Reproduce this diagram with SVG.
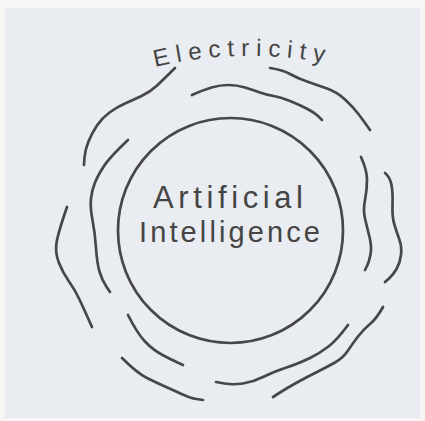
<svg xmlns="http://www.w3.org/2000/svg" width="425" height="421" viewBox="0 0 425 421">
  <style>
    .stroke { fill: none; stroke: #474747; stroke-width: 2.7; stroke-linecap: round; stroke-linejoin: round; }
    .hand { font-family: "Liberation Sans", "DejaVu Sans", sans-serif; fill: #454545; }
  </style>
  <defs>
    <path id="elecArc" d="M155,67 Q240,47 326,63"/>
  </defs>
  <rect x="0" y="0" width="425" height="421" fill="#f6f6f6"/>
  <rect x="5" y="8" width="415" height="410" fill="#e9ecf0"/>

  <g id="ai">
    <circle cx="230.5" cy="230.5" r="112.5" class="stroke"/>
    <text class="hand" x="153" y="208" font-size="31" textLength="150" lengthAdjust="spacing">Artificial</text>
    <text class="hand" x="139" y="242" font-size="29" textLength="181" lengthAdjust="spacing">Intelligence</text>
  </g>

  <g id="electricity">
    <text class="hand" font-size="24"><textPath href="#elecArc" textLength="170" lengthAdjust="spacing">Electricity</textPath></text>
  </g>

  <g id="waves">
    <path class="stroke" d="M175,68 Q163,80 156.5,86 Q150,92 141.5,96 Q133,100 125,103.5 Q117,107 109.5,112.5 Q102,118 97,125.5 Q92,133 88.5,141.5 Q85,150 84.5,157.5 L84,165"/>
    <path class="stroke" d="M128,140 Q110,157 104,166 Q98,175 95,182.5 Q92,190 91,198.5 Q90,207 92.5,220 Q95,233 96,248 Q97,263 99.5,271.5 Q102,280 106,286 L110,292"/>
    <path class="stroke" d="M67,207 Q58,233 56.5,243 Q55,253 59,263 Q63,273 69,281.5 Q75,290 79,298.5 Q83,307 87.5,317 L92,327"/>
    <path class="stroke" d="M192,95 Q203,90 211.5,87.5 Q220,85 228.5,85 Q237,85 245,87.5 Q253,90 260,92.5 Q267,95 273.5,96 Q280,97 290,101 Q300,105 307.5,109 Q315,113 318.5,116.5 L322,120"/>
    <path class="stroke" d="M270,68 Q283,70 290,74 Q297,78 307,81.5 Q317,85 327,88.5 Q337,92 345,99.5 Q353,107 358,113.5 Q363,120 366.5,125 L370,130"/>
    <path class="stroke" d="M361,157 Q367,170 367,180 Q367,190 365,200 Q363,210 365,218.5 Q367,227 369.5,237 Q372,247 370.5,254.5 Q369,262 367,266 L365,270"/>
    <path class="stroke" d="M385,173 Q390,177 391.5,185 Q393,193 392.5,205 Q392,217 394.5,225 Q397,233 399.5,240 Q402,247 401,255 Q400,263 396.5,269 Q393,275 389,278.5 L385,282"/>
    <path class="stroke" d="M348,325 Q337,340 328.5,346.5 Q320,353 310,358 Q300,363 286.5,367.5 Q273,372 263,377 Q253,382 243,383.5 Q233,385 224.5,383.5 L216,382"/>
    <path class="stroke" d="M383,307 Q377,318 370,324 Q363,330 358,336.5 Q353,343 348,350.5 Q343,358 335,362.5 Q327,367 317,372 Q307,377 297,382.5 Q287,388 280,392.5 L273,397"/>
    <path class="stroke" d="M128,315 Q137,333 145,341.5 Q153,350 162.5,355 Q172,360 177.5,362.5 L183,365"/>
    <path class="stroke" d="M122,358 Q137,373 147,378 Q157,383 165,386.5 Q173,390 181.5,394 Q190,398 196.5,399 L203,400"/>
  </g>
</svg>
